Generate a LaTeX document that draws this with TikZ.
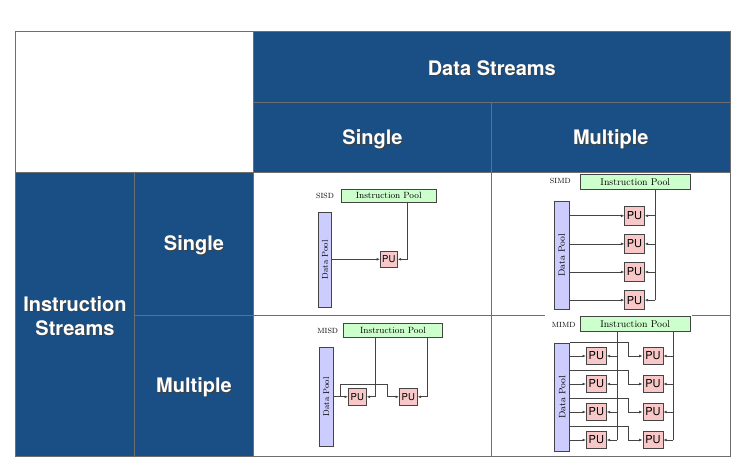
\documentclass[tikz,border=0pt]{standalone}
\usepackage{fontspec}
\setsansfont{TeX Gyre Heros}
\usepackage{tikz}
\usetikzlibrary{arrows.meta}

\definecolor{cellblue}{HTML}{1A4F86}
\definecolor{gridgray}{HTML}{6E6E6E}
\definecolor{ipoolfill}{HTML}{CCFFCC}
\definecolor{dpoolfill}{HTML}{CCCCFF}
\definecolor{pufill}{HTML}{F8C8C8}
\definecolor{boxline}{HTML}{444444}

% white header text with a soft drop shadow
\newcommand{\shtxt}[1]{\leavevmode\rlap{\kern1pt\raisebox{-1.3pt}{\color{black!75}#1}}#1}

\begin{document}
\begin{tikzpicture}[x=1pt,y=-1pt,
    grid/.style={gridgray,line width=0.9pt},
    hdr/.style={text=white,font=\fontsize{20}{24}\selectfont\sffamily\bfseries,align=center},
    ipool/.style={draw=boxline,fill=ipoolfill,line width=0.7pt,inner sep=0pt,font=\fontsize{9}{10}\selectfont},
    dpool/.style={draw=boxline,fill=dpoolfill,line width=0.7pt,inner sep=0pt,font=\fontsize{8.5}{10}\selectfont},
    pu/.style={draw=boxline,fill=pufill,line width=0.7pt,inner sep=0pt,font=\fontsize{9.5}{10}\selectfont\sffamily},
    bigpu/.style={pu,font=\fontsize{11}{12}\selectfont\sffamily},
    tag/.style={font=\fontsize{7.5}{9}\selectfont},
    wire/.style={boxline,line width=0.7pt},
    feed/.style={wire,-{Latex[length=3.4pt,width=2.8pt]}}]
    \useasboundingbox (0,0) rectangle (735,460);

    % Table cells
    \fill[cellblue] (253.5,31.5) rectangle (730,172.5);
    \fill[cellblue] (15.5,172.5) rectangle (253.5,456);
    \draw[grid] (15.5,31.5) rectangle (730,456);
    \draw[grid] (253.5,102.5) -- (730,102.5);
    \draw[grid] (15.5,172.5) -- (730,172.5);
    \draw[grid] (134.5,315) -- (545,315) (692,315) -- (730,315);
    \draw[grid] (134.5,172.5) -- (134.5,456);
    \draw[grid] (253.5,31.5) -- (253.5,456);
    \draw[grid] (491.5,102.5) -- (491.5,456);

    % Headers
    \node[hdr] (dstreams) at (491.8,68.5) {\shtxt{Data Streams}};
    \node[hdr] (dsingle) at (372.5,139.5) {\shtxt{Single}};
    \node[hdr] (dmultiple) at (610.8,139.5) {\shtxt{Multiple}};
    \node[hdr] (istreams) at (75,316.5) {\shtxt{Instruction}\\\shtxt{Streams}};
    \node[hdr] (isingle) at (194,246) {\shtxt{Single}};
    \node[hdr] (imultiple) at (194,387.5) {\shtxt{Multiple}};

    % SISD
    \node[tag] (sisdTag) at (325,195.8) {SISD};
    \node[ipool,minimum width=95.3,minimum height=13] (sisdIP) at (388.7,195.8) {Instruction Pool};
    \node[dpool,minimum width=13.4,minimum height=95] (sisdDP) at (325,259.8) {\rotatebox{90}{Data Pool}};
    \node[pu,minimum width=17,minimum height=16.7] (sisdPU) at (388.8,259.3) {PU};
    \coordinate (sisdBus) at ([xshift=18.3pt]sisdIP.south);
    \draw[feed] (sisdDP.east |- sisdPU.west) -- (sisdPU.west);
    \draw[feed] (sisdBus) |- (sisdPU.east);

    % SIMD
    \node[tag] (simdTag) at (560.3,181) {SIMD};
    \node[ipool,minimum width=109.3,minimum height=14.6,font=\fontsize{9.8}{11}\selectfont] (simdIP) at (635.3,182) {Instruction Pool};
    \node[dpool,minimum width=15.3,minimum height=108.4,font=\fontsize{9.3}{10}\selectfont] (simdDP) at (561.7,255.5) {\rotatebox{90}{Data Pool}};
    \coordinate (simdBus) at ([xshift=20pt]simdIP.south);
    \foreach \r/\y in {1/215.8,2/243.9,3/272,4/300.1} {
        \node[bigpu,minimum width=19.6,minimum height=19] (simdPU\r) at (634.5,\y) {PU};
        \draw[feed] (simdDP.east |- simdPU\r.west) -- (simdPU\r.west);
        \draw[feed] (simdBus |- simdPU\r.east) -- (simdPU\r.east);
    }
    \draw[wire] (simdBus) -- (simdBus |- simdPU4.east);

    % MISD
    \node[tag] (misdTag) at (327.7,330.5) {MISD};
    \node[ipool,minimum width=99.4,minimum height=14.4] (misdIP) at (393,330.5) {Instruction Pool};
    \node[dpool,minimum width=14,minimum height=98.7] (misdDP) at (326.3,396.7) {\rotatebox{90}{Data Pool}};
    \node[pu,minimum width=18,minimum height=17.7] (misdPUa) at (357.3,396.8) {PU};
    \node[pu,minimum width=18,minimum height=17.7] (misdPUb) at (408.3,396.8) {PU};
    \coordinate (misdBusA) at ([xshift=-17.3pt]misdIP.south);
    \coordinate (misdBusB) at ([xshift=34.3pt]misdIP.south);
    \coordinate (misdTap) at (340,396.8);
    \coordinate (misdHop) at (387.3,384);
    \draw[wire] (misdDP.east |- misdTap) -- (misdTap);
    \draw[feed] (misdTap) -- (misdPUa.west);
    \draw[feed] (misdTap) |- (misdHop) |- (misdPUb.west);
    \draw[feed] (misdBusA) |- (misdPUa.east);
    \draw[feed] (misdBusB) |- (misdPUb.east);

    % MIMD
    \node[tag] (mimdTag) at (563.7,324.7) {MIMD};
    \node[ipool,minimum width=109.7,minimum height=15.3,font=\fontsize{9.8}{11}\selectfont] (mimdIP) at (635.2,323.7) {Instruction Pool};
    \node[dpool,minimum width=15,minimum height=107.3,font=\fontsize{9.3}{10}\selectfont] (mimdDP) at (562.2,397.4) {\rotatebox{90}{Data Pool}};
    \coordinate (mimdBusA) at ([xshift=-18.2pt]mimdIP.south);
    \coordinate (mimdBusB) at ([xshift=37.8pt]mimdIP.south);
    \foreach \r/\y in {1/356,2/384,3/412,4/440} {
        \node[bigpu,minimum width=20,minimum height=16.7] (mimdPUa\r) at (596.3,\y) {PU};
        \node[bigpu,minimum width=20,minimum height=16.7] (mimdPUb\r) at (652.9,\y) {PU};
        \coordinate (mimdTap\r) at (569.7,\y-13.3);
        \coordinate (mimdHop\r) at (628.7,\y);
        \draw[feed] (mimdDP.east |- mimdPUa\r.west) -- (mimdPUa\r.west);
        \draw[feed] (mimdTap\r) -| (mimdHop\r) -- (mimdPUb\r.west);
        \draw[feed] (mimdBusA |- mimdPUa\r.east) -- (mimdPUa\r.east);
        \draw[feed] (mimdBusB |- mimdPUb\r.east) -- (mimdPUb\r.east);
    }
    \draw[wire] (mimdBusA) -- (mimdBusA |- mimdPUa4.east);
    \draw[wire] (mimdBusB) -- (mimdBusB |- mimdPUb4.east);
\end{tikzpicture}
\end{document}
